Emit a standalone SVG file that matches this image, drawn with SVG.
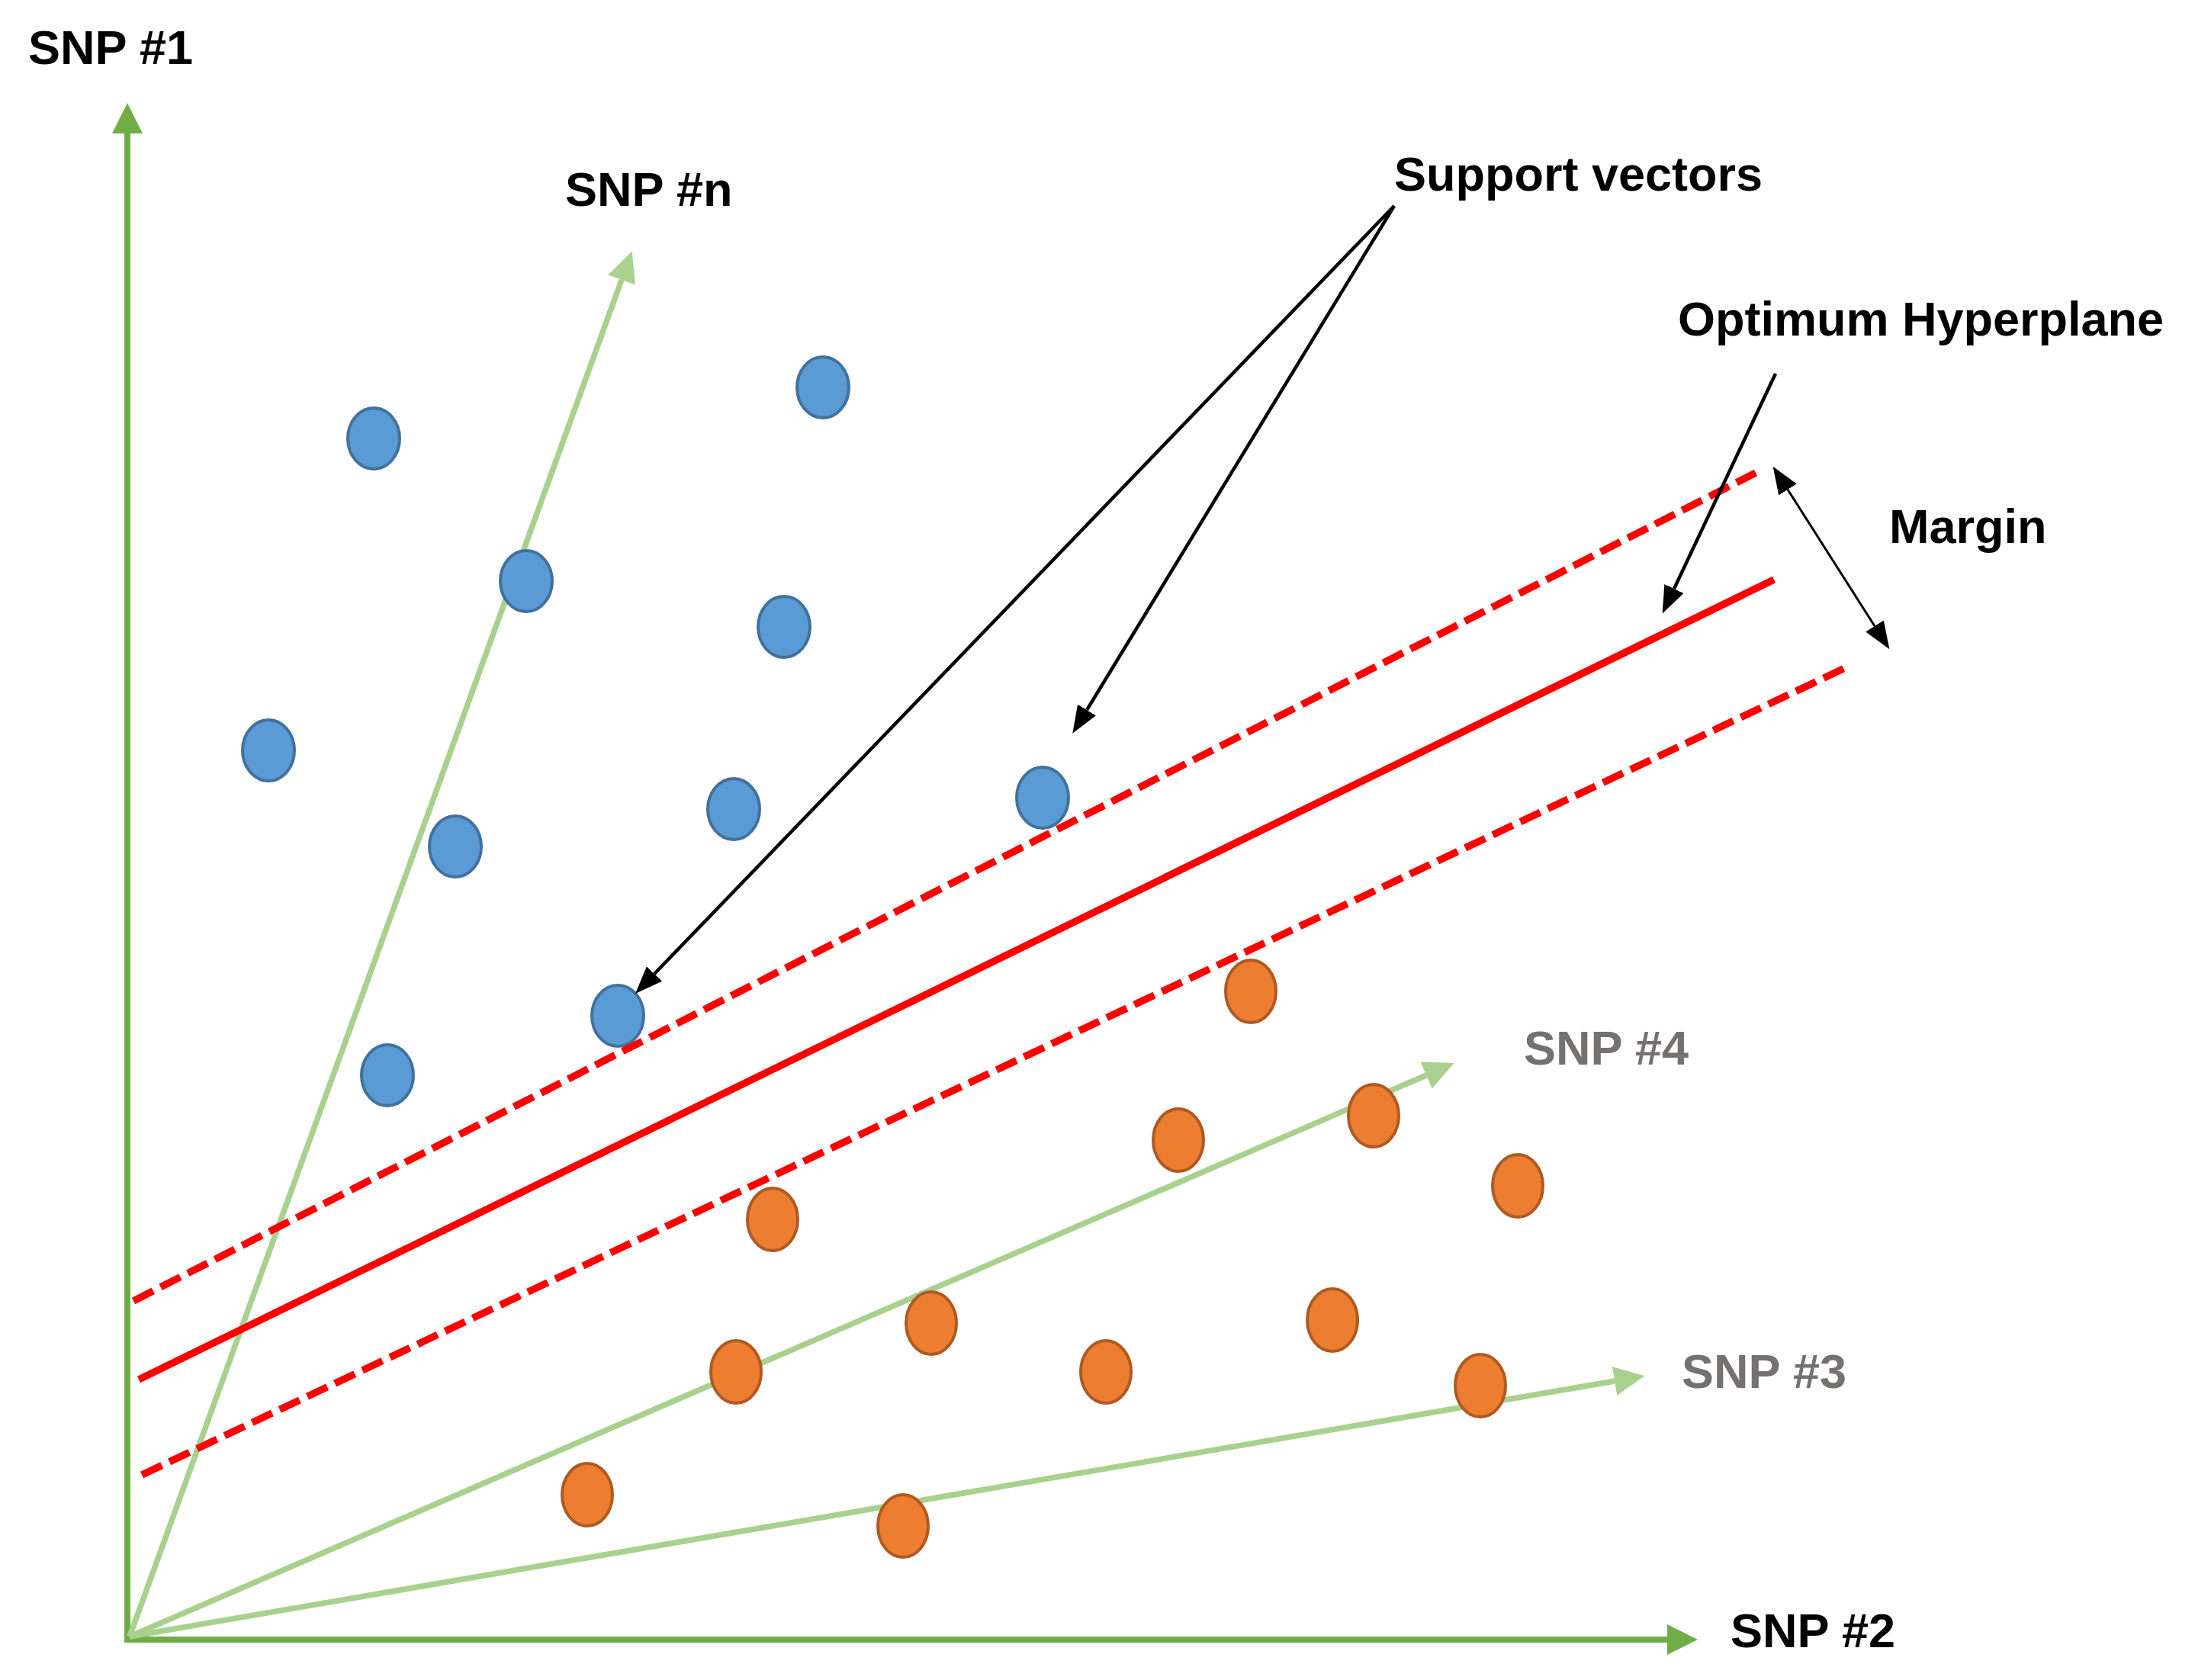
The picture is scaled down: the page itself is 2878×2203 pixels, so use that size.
<svg xmlns="http://www.w3.org/2000/svg" width="2878" height="2203" viewBox="0 0 2878 2203">
<style>
text{font-family:"Liberation Sans",Arial,sans-serif;font-weight:bold;font-size:63px}
.lbl{fill:#000}
.gray{fill:#767171}
.axis{stroke:#70ad47;stroke-width:8;fill:none}
.snp{stroke:#a9d18e;stroke-width:7.5;fill:none}
.hyper{stroke:#ff0000;stroke-width:9.5;fill:none}
.dash{stroke:#ff0000;stroke-width:9.5;fill:none;stroke-dasharray:29 11}
.ptr{stroke:#000;stroke-width:4.5;fill:none}
.blue{fill:#5b9bd5;stroke:#41719c;stroke-width:4}
.orange{fill:#ed7d31;stroke:#ae5a21;stroke-width:4}
</style>
<defs>
<marker id="axArrow" markerUnits="userSpaceOnUse" viewBox="0 0 40 40" refX="0" refY="20" markerWidth="40" markerHeight="40" orient="auto"><path d="M0,0 L40,20 L0,40 z" fill="#70ad47"/></marker>
<marker id="snpArrow" markerUnits="userSpaceOnUse" viewBox="0 0 40 38" refX="0" refY="19" markerWidth="40" markerHeight="38" orient="auto"><path d="M0,0 L40,19 L0,38 z" fill="#a9d18e"/></marker>
<marker id="blkArrow" markerUnits="userSpaceOnUse" viewBox="0 0 36 28" refX="0" refY="14" markerWidth="36" markerHeight="28" orient="auto-start-reverse"><path d="M0,0 L36,14 L0,28 z" fill="#000"/></marker>
</defs>
<rect width="2878" height="2203" fill="#fff"/>
<g id="connectors">
<line class="axis" x1="167" y1="2154" x2="167" y2="175" marker-end="url(#axArrow)"/>
<line class="axis" x1="163" y1="2150" x2="2186" y2="2150" marker-end="url(#axArrow)"/>
<line class="snp" x1="170" y1="2146" x2="815" y2="367" marker-end="url(#snpArrow)"/>
<line class="snp" x1="170" y1="2146" x2="1870" y2="1410" marker-end="url(#snpArrow)"/>
<line class="snp" x1="170" y1="2146" x2="2117" y2="1811" marker-end="url(#snpArrow)"/>
</g>
<g id="blue-points">
<ellipse class="blue" cx="490" cy="575" rx="34" ry="40"/>
<ellipse class="blue" cx="1079" cy="508" rx="34" ry="40"/>
<ellipse class="blue" cx="690" cy="762" rx="34" ry="40"/>
<ellipse class="blue" cx="1028" cy="822" rx="34" ry="40"/>
<ellipse class="blue" cx="352" cy="984" rx="34" ry="40"/>
<ellipse class="blue" cx="597" cy="1110" rx="34" ry="40"/>
<ellipse class="blue" cx="962" cy="1061" rx="34" ry="40"/>
<ellipse class="blue" cx="1367" cy="1046" rx="34" ry="40"/>
<ellipse class="blue" cx="810" cy="1332" rx="34" ry="40"/>
<ellipse class="blue" cx="508" cy="1410" rx="34" ry="40"/>
</g>
<g id="orange-points">
<ellipse class="orange" cx="1640" cy="1300" rx="33" ry="41"/>
<ellipse class="orange" cx="1545" cy="1495" rx="33" ry="41"/>
<ellipse class="orange" cx="1801" cy="1463" rx="33" ry="41"/>
<ellipse class="orange" cx="1990" cy="1555" rx="33" ry="41"/>
<ellipse class="orange" cx="1013" cy="1599" rx="33" ry="41"/>
<ellipse class="orange" cx="1221" cy="1735" rx="33" ry="41"/>
<ellipse class="orange" cx="965" cy="1799" rx="33" ry="41"/>
<ellipse class="orange" cx="1450" cy="1799" rx="33" ry="41"/>
<ellipse class="orange" cx="1747" cy="1731" rx="33" ry="41"/>
<ellipse class="orange" cx="1941" cy="1817" rx="33" ry="41"/>
<ellipse class="orange" cx="770" cy="1960" rx="33" ry="41"/>
<ellipse class="orange" cx="1184" cy="2001" rx="33" ry="41"/>
</g>
<g id="hyperplane">
<line class="dash" x1="175" y1="1706" x2="2302" y2="620"/>
<line class="hyper" x1="182" y1="1809" x2="2326" y2="760"/>
<line class="dash" x1="186" y1="1934" x2="2421" y2="875"/>
</g>
<g id="pointers">
<line class="ptr" x1="1828" y1="270" x2="858" y2="1277" marker-end="url(#blkArrow)"/>
<line class="ptr" x1="1828" y1="270" x2="1425" y2="931" marker-end="url(#blkArrow)"/>
<line class="ptr" x1="2328" y1="490" x2="2195" y2="772" marker-end="url(#blkArrow)"/>
<line class="ptr" style="stroke-width:3" x1="2344" y1="642" x2="2458" y2="821" marker-start="url(#blkArrow)" marker-end="url(#blkArrow)"/>
</g>
<g id="labels">
<text class="lbl" x="37" y="84">SNP #1</text>
<text class="lbl" x="741" y="270">SNP #n</text>
<text class="lbl" x="1828" y="250">Support vectors</text>
<text class="lbl" x="2200" y="440">Optimum Hyperplane</text>
<text class="lbl" x="2477" y="712">Margin</text>
<text class="gray" x="1998" y="1396">SNP #4</text>
<text class="gray" x="2205" y="1820">SNP #3</text>
<text class="lbl" x="2269" y="2160">SNP #2</text>
</g>
</svg>
